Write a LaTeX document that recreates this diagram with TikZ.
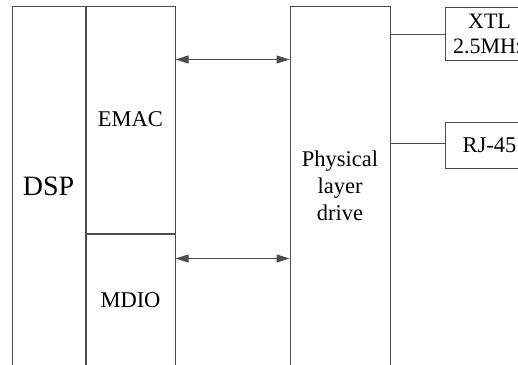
\documentclass[tikz,border=0pt]{standalone}
\usepackage{fontspec}
\setmainfont{Liberation Serif}
\usetikzlibrary{arrows.meta,positioning}
\definecolor{linegray}{HTML}{4D4D4D}

\begin{document}
\begin{tikzpicture}[x=1pt,y=-1pt,
node distance=0pt,
box/.style={draw=linegray,line width=1pt,inner sep=0pt,align=center,font=\fontsize{22.5}{27}\selectfont},
biarrow/.style={{Triangle[length=13pt,width=8pt]}-{Triangle[length=13pt,width=8pt]},draw=linegray,fill=linegray,line width=1pt},
link/.style={draw=linegray,line width=1pt}]
\useasboundingbox (0,0) rectangle (518,364);
\clip (0,0) rectangle (518,364);
\node[box,minimum width=73pt,minimum height=360pt,font=\fontsize{28}{30}\selectfont] (dsp) at (48.5,186) {DSP};
\node[box,minimum width=89pt,minimum height=227pt,anchor=north west] (emac) at (dsp.north east) {EMAC};
\node[box,minimum width=89pt,minimum height=133pt,below=of emac] (mdio) {MDIO};
\node[box,minimum width=100pt,minimum height=360pt] (phy) at (340,186) {Physical\\layer\\drive};
\node[box,minimum width=88pt,minimum height=53pt,anchor=north west,font=\fontsize{22}{25}\selectfont] (xtl) at (445,7) {XTL\\2.5MHz};
\node[box,minimum width=88pt,minimum height=46pt,anchor=north west] (rj) at (445,122) {RJ-45};
\draw[biarrow] ([yshift=-54pt]emac.north east) -- ([yshift=-54pt]emac.north east -| phy.west);
\draw[biarrow] ([yshift=-25pt]mdio.north east) -- ([yshift=-25pt]mdio.north east -| phy.west);
\draw[link] (phy.east |- xtl.west) -- (xtl.west);
\draw[link] ([yshift=2pt]phy.east |- rj.west) -- ([yshift=2pt]rj.west);
\end{tikzpicture}
\end{document}
